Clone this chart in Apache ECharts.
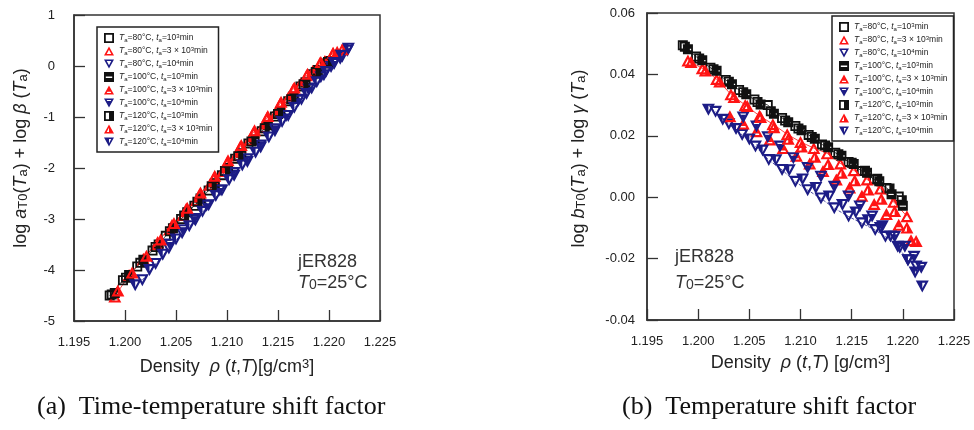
<!DOCTYPE html>
<html><head><meta charset="utf-8">
<script src="https://cdn.jsdelivr.net/npm/echarts@6/dist/echarts.min.js"></script>
<style>html,body{margin:0;padding:0;background:#fff}#c{width:974px;height:430px}</style>
</head><body><div id="c"></div>
<script>
// ---------- tick values ----------
const densityTicks = [1.195, 1.200, 1.205, 1.210, 1.215, 1.220, 1.225];
const shiftTicksA = [-5, -4, -3, -2, -1, 0, 1];
const shiftTicksB = [-0.04, -0.02, 0.00, 0.02, 0.04, 0.06];

// ---------- legend labels (annealing temperature / time) ----------
const annealTemps = ['80', '80', '80', '100', '100', '100', '120', '120', '120'];
const annealTimes = ['10{p|3}', '3 × 10{p|3}', '10{p|4}', '10{p|3}', '3 × 10{p|3}', '10{p|4}', '10{p|3}', '3 × 10{p|3}', '10{p|4}'];
const seriesNames = ['80C-1e3', '80C-3e3', '80C-1e4', '100C-1e3', '100C-3e3', '100C-1e4', '120C-1e3', '120C-3e3', '120C-1e4'];

// ---------- density (x) per series ----------
const rho80_1e3  = [1.1985, 1.1998, 1.2012, 1.2027, 1.2040, 1.2055, 1.2068, 1.2082, 1.2095, 1.2108, 1.2121, 1.2134, 1.2147, 1.2160, 1.2172, 1.2184, 1.2196];
const rho80_3e3  = [1.1990, 1.2004, 1.2018, 1.2032, 1.2046, 1.2060, 1.2073, 1.2087, 1.2100, 1.2113, 1.2126, 1.2139, 1.2152, 1.2165, 1.2178, 1.2191, 1.2204];
const rho80_1e4  = [1.2017, 1.2030, 1.2043, 1.2056, 1.2069, 1.2082, 1.2095, 1.2107, 1.2120, 1.2133, 1.2147, 1.2160, 1.2173, 1.2183, 1.2195, 1.2205, 1.2213];
const rho100_1e3 = [1.1990, 1.2004, 1.2018, 1.2033, 1.2047, 1.2061, 1.2074, 1.2088, 1.2101, 1.2114, 1.2127, 1.2140, 1.2152, 1.2165, 1.2177, 1.2189, 1.2200];
const rho100_3e3 = [1.2031, 1.2044, 1.2057, 1.2070, 1.2083, 1.2096, 1.2109, 1.2122, 1.2135, 1.2148, 1.2160, 1.2172, 1.2184, 1.2196, 1.2208];
const rho100_1e4 = [1.2044, 1.2057, 1.2068, 1.2080, 1.2093, 1.2107, 1.2120, 1.2133, 1.2147, 1.2158, 1.2170, 1.2180, 1.2192, 1.2202, 1.2211, 1.2218];
const rho120_1e3 = [1.1987, 1.2001, 1.2015, 1.2030, 1.2044, 1.2058, 1.2071, 1.2085, 1.2098, 1.2111, 1.2124, 1.2137, 1.2150, 1.2163, 1.2175, 1.2187, 1.2199];
const rho120_3e3 = [1.1993, 1.2007, 1.2021, 1.2035, 1.2048, 1.2061, 1.2074, 1.2088, 1.2101, 1.2114, 1.2127, 1.2140, 1.2153, 1.2166, 1.2179, 1.2192, 1.2204, 1.2213];
const rho120_1e4 = [1.2010, 1.2024, 1.2037, 1.2050, 1.2063, 1.2076, 1.2089, 1.2102, 1.2115, 1.2128, 1.2141, 1.2154, 1.2166, 1.2178, 1.2188, 1.2197, 1.2205, 1.2212, 1.2219];

// ---------- (a) log aT0(Ta) + log beta(Ta) ----------
const ttsA80_1e3  = [-4.50, -4.20, -3.93, -3.62, -3.33, -3.00, -2.74, -2.44, -2.14, -1.82, -1.52, -1.28, -0.99, -0.69, -0.40, -0.16, 0.05];
const ttsA80_3e3  = [-4.52, -4.10, -3.78, -3.45, -3.12, -2.80, -2.52, -2.20, -1.90, -1.58, -1.30, -1.02, -0.74, -0.45, -0.18, 0.06, 0.25];
const ttsA80_1e4  = [-4.20, -3.88, -3.58, -3.28, -3.03, -2.73, -2.44, -2.15, -1.88, -1.60, -1.28, -0.98, -0.66, -0.44, -0.18, 0.04, 0.18];
const ttsA100_1e3 = [-4.45, -4.10, -3.80, -3.50, -3.18, -2.87, -2.60, -2.30, -2.00, -1.71, -1.44, -1.16, -0.90, -0.60, -0.32, -0.08, 0.10];
const ttsA100_3e3 = [-3.50, -3.20, -2.92, -2.63, -2.33, -2.06, -1.75, -1.45, -1.20, -0.92, -0.62, -0.35, -0.10, 0.10, 0.28];
const ttsA100_1e4 = [-3.50, -3.22, -3.00, -2.74, -2.44, -2.10, -1.83, -1.56, -1.24, -0.98, -0.68, -0.46, -0.22, -0.02, 0.14, 0.30];
const ttsA120_1e3 = [-4.48, -4.15, -3.86, -3.55, -3.24, -2.93, -2.66, -2.36, -2.06, -1.77, -1.48, -1.22, -0.94, -0.65, -0.36, -0.12, 0.08];
const ttsA120_3e3 = [-4.40, -4.05, -3.72, -3.40, -3.08, -2.78, -2.48, -2.15, -1.85, -1.55, -1.26, -0.98, -0.70, -0.42, -0.15, 0.08, 0.26, 0.33];
const ttsA120_1e4 = [-4.30, -4.00, -3.70, -3.40, -3.14, -2.86, -2.55, -2.24, -1.95, -1.70, -1.40, -1.10, -0.82, -0.55, -0.32, -0.12, 0.06, 0.20, 0.34];

// ---------- (b) log bT0(Ta) + log gamma(Ta) ----------
const tsB80_1e3  = [0.0495, 0.0458, 0.0422, 0.0382, 0.0349, 0.0318, 0.0300, 0.0258, 0.0232, 0.0203, 0.0172, 0.0145, 0.0115, 0.0085, 0.0058, 0.0030, 0.0002];
const tsB80_3e3  = [0.0445, 0.0420, 0.0385, 0.0335, 0.0300, 0.0265, 0.0238, 0.0205, 0.0180, 0.0160, 0.0143, 0.0110, 0.0088, 0.0058, 0.0028, -0.0015, -0.0062];
const tsB80_1e4  = [0.0278, 0.0238, 0.0203, 0.0165, 0.0121, 0.0089, 0.0050, 0.0023, -0.0004, -0.0036, -0.0063, -0.0085, -0.0107, -0.0129, -0.0161, -0.0205, -0.0226];
const tsB100_1e3 = [0.0482, 0.0446, 0.0412, 0.0368, 0.0335, 0.0302, 0.0272, 0.0244, 0.0218, 0.0190, 0.0163, 0.0135, 0.0108, 0.0080, 0.0052, 0.0010, -0.0028];
const tsB100_3e3 = [0.0264, 0.0240, 0.0215, 0.0188, 0.0160, 0.0135, 0.0110, 0.0085, 0.0058, 0.0032, 0.0005, -0.0022, -0.0055, -0.0090, -0.0140];
const tsB100_1e4 = [0.0260, 0.0230, 0.0195, 0.0165, 0.0127, 0.0095, 0.0067, 0.0034, 0.0002, -0.0030, -0.0063, -0.0095, -0.0129, -0.0161, -0.0194, -0.0230];
const tsB120_1e3 = [0.0490, 0.0452, 0.0417, 0.0376, 0.0342, 0.0310, 0.0280, 0.0250, 0.0224, 0.0196, 0.0168, 0.0140, 0.0112, 0.0086, 0.0060, 0.0028, -0.0010];
const tsB120_3e3 = [0.0440, 0.0413, 0.0377, 0.0326, 0.0297, 0.0261, 0.0228, 0.0190, 0.0165, 0.0132, 0.0108, 0.0080, 0.0055, 0.0025, -0.0005, -0.0045, -0.0099, -0.0143];
const tsB120_1e4 = [0.0285, 0.0252, 0.0222, 0.0188, 0.0152, 0.0120, 0.0088, 0.0058, 0.0030, 0.0002, -0.0025, -0.0050, -0.0075, -0.0100, -0.0128, -0.0165, -0.0205, -0.0245, -0.0291];

// ---------- styling ----------
const FONT = "'Liberation Sans', Arial, Helvetica, sans-serif";
const BLACK = '#111111', RED = '#ff1414', NAVY = '#1c1c86';
const SQ_RING = 'M0,0L10,0L10,10L0,10ZM1.8,1.8L1.8,8.2L8.2,8.2L8.2,1.8Z';
const UP_RING = 'M5,0L10,9L0,9ZM5,3.3L2.72,7.4L7.28,7.4Z';
const DN_RING = 'M0,0L10,0L5,9ZM2.72,1.6L5,5.7L7.28,1.6Z';
const symbols = [
  'path://' + SQ_RING,
  'path://' + UP_RING,
  'path://' + DN_RING,
  'path://' + SQ_RING + 'M1.8,1.8L8.2,1.8L8.2,4.6L1.8,4.6ZM1.8,5.9L8.2,5.9L8.2,8.2L1.8,8.2Z',
  'path://' + UP_RING + 'M5,3.3L6.67,6.3L3.33,6.3Z',
  'path://' + DN_RING + 'M3.28,2.6L6.72,2.6L5,5.7Z',
  'path://' + SQ_RING + 'M5,1.8L8.2,1.8L8.2,8.2L5,8.2Z',
  'path://' + UP_RING + 'M5,3.3L7.28,7.4L5,7.4Z',
  'path://' + DN_RING + 'M2.72,1.6L5,1.6L5,5.7Z'
];
const colors = [BLACK, RED, NAVY, BLACK, RED, NAVY, BLACK, RED, NAVY];
const sizes = [10, [13, 12], [13, 12], 10, [13, 12], [13, 12], 10, [13, 12], [13, 12]];

const rhoSets = [rho80_1e3, rho80_3e3, rho80_1e4, rho100_1e3, rho100_3e3, rho100_1e4, rho120_1e3, rho120_3e3, rho120_1e4];
const aSets = [ttsA80_1e3, ttsA80_3e3, ttsA80_1e4, ttsA100_1e3, ttsA100_3e3, ttsA100_1e4, ttsA120_1e3, ttsA120_3e3, ttsA120_1e4];
const bSets = [tsB80_1e3, tsB80_3e3, tsB80_1e4, tsB100_1e3, tsB100_3e3, tsB100_1e4, tsB120_1e3, tsB120_3e3, tsB120_1e4];

const pair = (xs, ys) => xs.map((x, i) => [x, ys[i]]);

const series = [];
// thin guide lines for the 80 C series
[[0, BLACK, 'solid'], [1, RED, 'solid'], [2, NAVY, 'dashed']].forEach(([k, c, t]) => {
  [[0, aSets], [1, bSets]].forEach(([g, sets]) => {
    series.push({ type: 'line', name: '_line' + k + '_' + g, xAxisIndex: g, yAxisIndex: g,
      data: pair(rhoSets[k], sets[k]), showSymbol: false, silent: true, z: 1,
      lineStyle: { color: c, width: 0.8, type: t } });
  });
});
for (let k = 0; k < 9; k++) {
  [[0, aSets], [1, bSets]].forEach(([g, sets]) => {
    series.push({ type: 'scatter', name: seriesNames[k], xAxisIndex: g, yAxisIndex: g,
      data: pair(rhoSets[k], sets[k]), symbol: symbols[k], symbolSize: sizes[k], z: 3,
      itemStyle: { color: colors[k], borderWidth: 0, opacity: 1 } });
  });
}

const legendRich = {
  i: { fontStyle: 'italic', fontSize: 8.5, fontFamily: FONT, color: '#222', lineHeight: 10 },
  s: { fontSize: 6, fontFamily: FONT, color: '#222', verticalAlign: 'bottom', lineHeight: 6 },
  p: { fontSize: 6, fontFamily: FONT, color: '#222', verticalAlign: 'top', lineHeight: 6 }
};
const legendFmt = name => {
  const k = seriesNames.indexOf(name);
  return '{i|T}{s|a}=' + annealTemps[k] + '°C, {i|t}{s|a}=' + annealTimes[k] + 'min';
};
const mkLegend = (left, top) => ({
  left, top, orient: 'vertical', data: seriesNames, selectedMode: false,
  itemWidth: 10, itemHeight: 10, itemGap: 3, padding: [6, 6, 5, 7],
  borderColor: '#222', borderWidth: 1.5, backgroundColor: '#fff', z: 10,
  formatter: legendFmt,
  textStyle: { fontSize: 8.5, fontFamily: FONT, color: '#222', lineHeight: 10, rich: legendRich }
});

const axisCol = '#333';
const nameRich = fs => ({
  i: { fontStyle: 'italic', fontSize: fs, fontFamily: FONT, color: '#222' },
  sub: { fontSize: fs * 0.72, fontFamily: FONT, color: '#222', verticalAlign: 'bottom', lineHeight: fs * 0.6 },
  sup: { fontSize: fs * 0.72, fontFamily: FONT, color: '#222', verticalAlign: 'top', lineHeight: fs * 0.6 }
});
const step = arr => Number((arr[1] - arr[0]).toFixed(6));

const xAxisBase = (gi, nameText, nameGap) => ({
  type: 'value', gridIndex: gi, min: densityTicks[0], max: densityTicks[densityTicks.length - 1],
  interval: step(densityTicks), splitLine: { show: false },
  axisLine: { show: true, onZero: false, lineStyle: { color: axisCol, width: 1.5 } },
  axisTick: { show: true, inside: true, length: 11, lineStyle: { color: axisCol, width: 1.3 } },
  axisLabel: { color: '#222', fontSize: 13, fontFamily: FONT, margin: 15, formatter: v => v.toFixed(3) },
  name: nameText, nameLocation: 'middle', nameGap,
  nameTextStyle: { fontSize: 18, fontFamily: FONT, color: '#222', rich: nameRich(18) }
});
const yAxisBase = (gi, ticks, dec, margin, nameText, nameGap, pad) => ({
  type: 'value', gridIndex: gi, min: ticks[0], max: ticks[ticks.length - 1],
  interval: step(ticks), splitLine: { show: false },
  axisLine: { show: true, onZero: false, lineStyle: { color: axisCol, width: 1.5 } },
  axisTick: { show: true, inside: true, length: 11, lineStyle: { color: axisCol, width: 1.3 } },
  axisLabel: { color: '#222', fontSize: 13, fontFamily: FONT, margin, formatter: v => v.toFixed(dec) },
  name: nameText, nameLocation: 'middle', nameRotate: 90, nameGap,
  nameTextStyle: { fontSize: 18, fontFamily: FONT, color: '#222', rich: nameRich(18), padding: pad }
});

const tRich = {
  i: { fontStyle: 'italic', fontSize: 18, fontFamily: FONT, fill: '#333' },
  sub: { fontSize: 14, fontFamily: FONT, fill: '#333', verticalAlign: 'bottom', lineHeight: 10 }
};
const txt = (left, top, text) => ({ type: 'text', left, top, z: 20,
  style: { text, fontSize: 18, fontFamily: FONT, fill: '#333', rich: tRich } });
const serif = "'Liberation Serif', 'Times New Roman', serif";

const option = {
  animation: false,
  backgroundColor: '#fff',
  grid: [
    { left: 74, top: 15, width: 306, height: 306, show: true, borderColor: axisCol, borderWidth: 1.5, containLabel: false },
    { left: 647, top: 13, width: 307, height: 307, show: true, borderColor: axisCol, borderWidth: 1.5, containLabel: false }
  ],
  xAxis: [
    xAxisBase(0, 'Density  {i|ρ} ({i|t},{i|T})[g/cm{sup|3}]', 37),
    xAxisBase(1, 'Density  {i|ρ} ({i|t},{i|T}) [g/cm{sup|3}]', 34)
  ],
  yAxis: [
    yAxisBase(0, shiftTicksA, 0, 19, 'log {i|a}{sub|T0}({i|T}{sub|a}) + log {i|β} ({i|T}{sub|a})', 44, [0, 0, 0, 20]),
    yAxisBase(1, shiftTicksB, 2, 12, 'log {i|b}{sub|T0}({i|T}{sub|a}) + log {i|γ} ({i|T}{sub|a})', 59, [0, 0, 0, 16])
  ],
  legend: [mkLegend(97, 27), mkLegend(832, 16)],
  series,
  graphic: [
    txt(298, 253, 'jER828'),
    txt(298, 274, '{i|T}{sub|0}=25°C'),
    txt(675, 248, 'jER828'),
    txt(675, 274, '{i|T}{sub|0}=25°C'),
    { type: 'text', left: 37, top: 394, z: 20, style: { text: '(a)  Time-temperature shift factor', fontSize: 26, fontFamily: serif, fill: '#111' } },
    { type: 'text', left: 622, top: 394, z: 20, style: { text: '(b)  Temperature shift factor', fontSize: 26, fontFamily: serif, fill: '#111' } }
  ]
};
const chart = echarts.init(document.getElementById('c'), null, { renderer: 'canvas' });
chart.setOption(option);
</script></body></html>
